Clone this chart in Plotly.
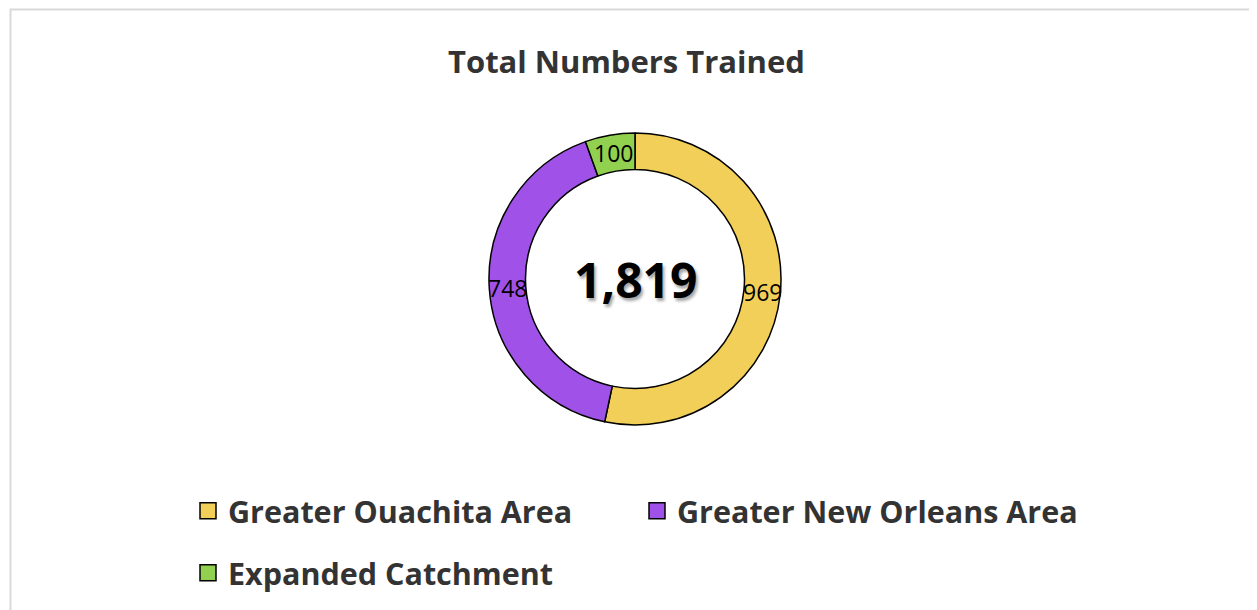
import math
import plotly.graph_objects as go

categories = ["Greater Ouachita Area", "Greater New Orleans Area", "Expanded Catchment"]
values = [969, 748, 100]
colors = ["#F2CF58", "#A052E8", "#92D050"]
total_label = "1,819"
title_text = "Total Numbers Trained"

W, H = 1257, 610
OFF = 8  # page body margin
FONT = "Open Sans"


def px(x):
    return (x - OFF) / W


def py(y):
    return 1 - (y - OFF) / H


fig = go.Figure()

cx, cy, R = 635, 279, 146
HOLE = 0.75
fig.add_trace(go.Pie(
    labels=categories, values=values, sort=False, direction="clockwise", rotation=0,
    hole=HOLE,
    marker=dict(colors=colors, line=dict(color="black", width=1.5)),
    textinfo="none",
    domain=dict(x=[px(cx - R), px(cx + R)], y=[py(cy + R), py(cy - R)]),
    showlegend=False, hoverinfo="label+value",
))

# data labels placed at the middle of each slice (derived from the values)
annotations = []
total = sum(values)
rmid = R * (1 + HOLE) / 2
cum = 0
for v in values:
    ang = 2 * math.pi * (cum + v / 2) / total
    cum += v
    lx = cx + rmid * math.sin(ang)
    ly = cy - rmid * math.cos(ang)
    annotations.append(dict(
        text=f"{v:,}", x=px(lx), y=py(ly), xref="paper", yref="paper",
        showarrow=False, xanchor="center", yanchor="middle",
        font=dict(family=FONT, size=23, color="black")))

# legend entries (two legends to reproduce the two-row spacing)
for i, (cat, col) in enumerate(zip(categories, colors)):
    fig.add_trace(go.Scatter(
        x=[None], y=[None], mode="markers", name=cat,
        marker=dict(symbol="square", size=17, color=col, line=dict(color="black", width=1.5)),
        legend="legend" if i < 2 else "legend2",
    ))

legend_common = dict(
    orientation="h", xanchor="left", yanchor="middle",
    font=dict(family=FONT, size=30.5, color="#333333", weight="bold"),
    entrywidth=404, entrywidthmode="pixels", bgcolor="rgba(0,0,0,0)",
)

annotations += [
    dict(text=title_text, x=px(626), y=py(61), xref="paper", yref="paper",
         showarrow=False, xanchor="center", yanchor="middle",
         font=dict(family=FONT, size=31, color="#333333", weight="bold")),
    dict(text=total_label, x=px(cx), y=py(cy), xref="paper", yref="paper",
         showarrow=False, xanchor="center", yanchor="middle",
         font=dict(family=FONT, size=48, color="black", weight="bold",
                   shadow="2px 3px 3px rgba(0,0,0,0.35)")),
]

fig.update_layout(
    width=W, height=H,
    margin=dict(l=0, r=0, t=0, b=0),
    paper_bgcolor="white", plot_bgcolor="white",
    xaxis=dict(visible=False), yaxis=dict(visible=False),
    legend=dict(x=px(188), y=py(511), **legend_common),
    legend2=dict(x=px(188), y=py(573), **legend_common),
    annotations=annotations,
    shapes=[
        dict(type="rect", xref="paper", yref="paper",
             x0=px(10.5), x1=1.05, y0=-0.05, y1=py(9.5),
             line=dict(color="#D9D9D9", width=2), fillcolor="rgba(0,0,0,0)", layer="below"),
    ],
)

fig.write_html("out.html")
